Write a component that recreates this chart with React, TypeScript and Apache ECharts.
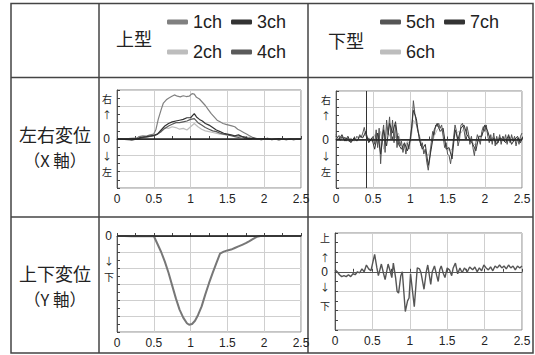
import React, { useEffect, useRef } from 'react';
import * as echarts from 'echarts';

const SANS = '"Liberation Sans", Arial, sans-serif';
const CJK = '"Noto Sans CJK JP", sans-serif';

const xTickLabels = ['0', '0.5', '1', '1.5', '2', '2.5'];
const rowLabels = ['左右変位', '（X 軸）', '上下変位', '（Y 軸）'];
const colLabels = ['上型', '下型'];
const legendRows = [['1ch', '3ch'], ['2ch', '4ch'], ['5ch', '7ch'], ['6ch']];

// y-axis side labels: [value, text]
const tlYLabels: [number, string][] = [[2.5, '右'], [1.5, '↑'], [0, '0'], [-1, '↓'], [-2, '左']];
const trYLabels: [number, string][] = [[2.5, '右'], [1.5, '↑'], [0, '0'], [-1, '↓'], [-2, '左']];
const blYLabels: [number, string][] = [[0, '0'], [-1.5, '↓'], [-2.5, '下']];
const brYLabels: [number, string][] = [[1.75, '上'], [0.75, '↑'], [0, '0'], [-0.75, '↓'], [-1.75, '下']];

// Top-left: X displacement, upper type
const ch1X: [number, number][] = [
  [0, 0], [0.05, 0.02], [0.1, -0.03], [0.15, 0], [0.2, -0.05], [0.25, -0.03], [0.3, 0.15], [0.35, 0.2], [0.4, 0.18],
  [0.45, 0.25], [0.5, 0.3], [0.53, 0.6], [0.56, 1.2], [0.6, 1.8], [0.63, 2.2], [0.67, 2.4], [0.7, 2.5], [0.74, 2.6],
  [0.78, 2.7], [0.82, 2.62], [0.86, 2.58], [0.9, 2.65], [0.94, 2.6], [0.98, 2.62], [1.02, 2.78], [1.05, 2.75],
  [1.08, 2.55], [1.12, 2.45], [1.16, 2.25], [1.2, 2.05], [1.24, 1.8], [1.28, 1.55], [1.32, 1.35], [1.36, 1.15],
  [1.4, 1.05], [1.44, 0.95], [1.48, 0.9], [1.52, 0.85], [1.56, 0.8], [1.6, 0.75], [1.64, 0.6], [1.68, 0.5],
  [1.72, 0.4], [1.76, 0.3], [1.8, 0.2], [1.84, 0.1], [1.88, 0.05], [1.92, 0], [1.96, -0.05], [2, 0], [2.05, 0.05],
  [2.1, -0.05], [2.15, 0], [2.2, -0.08], [2.25, 0], [2.3, -0.05], [2.35, 0.02], [2.4, -0.05], [2.45, 0], [2.5, -0.02],
];
const ch2X: [number, number][] = [
  [0, 0], [0.15, 0.02], [0.3, 0.05], [0.4, 0.1], [0.5, 0.2], [0.55, 0.3], [0.6, 0.5], [0.65, 0.7], [0.7, 0.65],
  [0.75, 0.75], [0.8, 0.7], [0.85, 0.6], [0.9, 0.65], [0.95, 0.55], [1, 0.75], [1.05, 0.95], [1.1, 0.75], [1.15, 0.6],
  [1.2, 0.5], [1.25, 0.45], [1.3, 0.4], [1.4, 0.3], [1.5, 0.25], [1.6, 0.2], [1.7, 0.15], [1.8, 0.1], [1.85, 0],
  [2, 0], [2.5, 0],
];
const ch3X: [number, number][] = [
  [0, 0], [0.1, -0.02], [0.2, -0.05], [0.28, 0], [0.32, 0.1], [0.4, 0.15], [0.5, 0.22], [0.55, 0.3], [0.6, 0.55],
  [0.65, 0.8], [0.7, 0.95], [0.75, 1.05], [0.8, 1.1], [0.85, 1.15], [0.9, 1.2], [0.95, 1.3], [1, 1.3], [1.05, 1.55],
  [1.08, 1.35], [1.12, 1.2], [1.16, 1.1], [1.2, 0.95], [1.25, 0.85], [1.3, 0.7], [1.35, 0.55], [1.4, 0.45],
  [1.45, 0.35], [1.5, 0.3], [1.55, 0.25], [1.6, 0.2], [1.65, 0.25], [1.7, 0.15], [1.75, 0.1], [1.8, 0], [1.85, 0.05],
  [1.9, 0], [2, 0.02], [2.1, -0.03], [2.2, 0.02], [2.3, -0.03], [2.4, 0], [2.5, 0],
];
const ch4X: [number, number][] = [
  [0, 0], [0.3, 0.05], [0.5, 0.2], [0.55, 0.3], [0.6, 0.45], [0.65, 0.65], [0.7, 0.8], [0.75, 0.9], [0.8, 1],
  [0.85, 1], [0.9, 1.05], [0.95, 1.1], [1, 1.2], [1.05, 1.25], [1.1, 1], [1.15, 0.85], [1.2, 0.7], [1.25, 0.6],
  [1.3, 0.5], [1.35, 0.45], [1.4, 0.35], [1.45, 0.3], [1.5, 0.25], [1.55, 0.2], [1.6, 0.15], [1.65, 0.1],
  [1.7, 0.15], [1.75, 0], [1.8, 0.05], [1.85, 0], [2.5, 0],
];

// Top-right: X displacement, lower type
const ch5X: [number, number][] = [
  [0, 0.3], [0.02, 0.1], [0.04, 0.25], [0.06, -0.05], [0.08, 0.2], [0.1, 0], [0.12, 0.15], [0.14, -0.1], [0.16, 0.1],
  [0.18, -0.15], [0.2, 0.05], [0.22, -0.1], [0.24, 0.1], [0.26, 0], [0.28, 0.2], [0.3, 0.1], [0.32, 0.3], [0.34, 0.15],
  [0.36, 0.4], [0.38, 0.75], [0.4, 0.3], [0.42, 0], [0.44, 0.1], [0.46, -0.1], [0.48, 0.05], [0.5, 0.2], [0.52, -0.3],
  [0.54, 0.6], [0.56, -0.5], [0.58, 0.7], [0.6, -1.5], [0.62, 0.2], [0.64, 0.9], [0.66, -0.8], [0.68, 1.2], [0.7, 0.3],
  [0.72, 1.4], [0.74, 0], [0.76, 1.2], [0.78, -0.2], [0.8, 0.9], [0.82, -0.5], [0.84, 0.2], [0.86, -0.4], [0.88, -0.1],
  [0.9, -0.8], [0.92, -0.3], [0.94, -0.9], [0.96, -0.2], [0.98, -0.6], [1, 0.2], [1.02, 0.8], [1.04, 2.4], [1.06, 1.6],
  [1.08, 1], [1.1, 0.5], [1.12, 0.2], [1.14, -0.4], [1.16, -0.2], [1.18, -0.9], [1.2, -0.6], [1.22, -1.4], [1.24, -1.9],
  [1.26, -1.2], [1.28, -0.2], [1.3, 0.5], [1.32, 0.3], [1.34, 0.9], [1.36, 0.8], [1.38, 1], [1.4, 0.7], [1.42, 0.9],
  [1.44, 0.2], [1.46, -0.5], [1.48, -0.2], [1.5, -0.9], [1.52, -1], [1.54, -1.5], [1.56, -0.8], [1.58, 0.1], [1.6, 0.9],
  [1.62, 0.5], [1.64, -0.4], [1.66, 0], [1.68, 0.9], [1.7, 1], [1.72, 0.6], [1.74, 0], [1.76, 0.8], [1.78, 0.4],
  [1.8, -0.3], [1.82, 0.2], [1.84, -0.5], [1.86, -1], [1.88, -0.2], [1.9, 0.3], [1.92, 0], [1.94, -0.3], [1.96, 0.5],
  [1.98, 0.8], [2, 0.5], [2.02, 0.9], [2.04, 0.2], [2.06, -0.2], [2.08, 0.3], [2.1, -0.3], [2.12, 0.4], [2.14, -0.4],
  [2.16, 0.2], [2.18, -0.2], [2.2, 0.3], [2.22, -0.3], [2.24, 0.2], [2.26, -0.1], [2.28, 0.3], [2.3, -0.3], [2.32, 0.2],
  [2.34, -0.2], [2.36, 0.3], [2.38, -0.1], [2.4, 0.2], [2.42, -0.4], [2.44, 0.1], [2.46, -0.3], [2.48, 0.2], [2.5, 0.4],
];
const ch6X: [number, number][] = [
  [0, 0.1], [0.04, 0.2], [0.08, 0], [0.12, 0.1], [0.16, -0.1], [0.2, 0.1], [0.24, -0.1], [0.28, 0], [0.32, 0.1],
  [0.36, 0.2], [0.4, 0.3], [0.44, 0], [0.48, -0.1], [0.52, 0.3], [0.56, -0.3], [0.6, 0.5], [0.64, -0.6], [0.68, 0.8],
  [0.72, 0.2], [0.76, 0.9], [0.8, 0.1], [0.84, 0.4], [0.88, -0.4], [0.92, -0.5], [0.96, -0.1], [1, -0.3], [1.04, 1.2],
  [1.08, 0.9], [1.12, 0.3], [1.16, -0.4], [1.2, -0.8], [1.24, -1], [1.28, -0.4], [1.32, 0.2], [1.36, 0.6], [1.4, 0.8],
  [1.44, 0.3], [1.48, -0.3], [1.52, -0.7], [1.56, -0.6], [1.6, 0.3], [1.64, 0.5], [1.68, 0.4], [1.72, 0.7], [1.76, 0.5],
  [1.8, 0.1], [1.84, -0.2], [1.88, -0.4], [1.92, 0], [1.96, 0.3], [2, 0.6], [2.04, 0.4], [2.08, 0], [2.12, 0.2],
  [2.16, -0.1], [2.2, 0.2], [2.24, -0.1], [2.28, 0.1], [2.32, -0.1], [2.36, 0.2], [2.4, -0.1], [2.44, 0.1], [2.48, 0],
  [2.5, 0.2],
];
const ch7X: [number, number][] = [
  [0, 0.2], [0.04, 0], [0.08, 0.3], [0.12, -0.1], [0.16, 0.2], [0.2, -0.2], [0.24, 0.1], [0.28, -0.1], [0.32, 0.2],
  [0.36, 0.1], [0.4, 0.5], [0.44, -0.2], [0.48, 0.1], [0.52, -0.6], [0.56, 0.4], [0.6, -0.9], [0.64, 0.6], [0.68, -0.4],
  [0.72, 1], [0.76, 0.4], [0.8, 1.1], [0.84, -0.3], [0.88, -0.6], [0.92, -0.2], [0.96, -0.7], [1, 0], [1.04, 1.8],
  [1.08, 1.3], [1.12, 0], [1.16, -0.6], [1.2, -0.3], [1.24, -1.6], [1.28, -0.6], [1.32, 0.6], [1.36, 1], [1.4, 0.5],
  [1.44, 0.7], [1.48, -0.6], [1.52, -0.5], [1.56, -1.2], [1.6, 0.6], [1.64, 0], [1.68, 0.7], [1.72, 0.9], [1.76, 0.3],
  [1.8, 0], [1.84, -0.3], [1.88, -0.7], [1.92, 0.2], [1.96, 0.2], [2, 0.9], [2.04, 0.5], [2.08, -0.1], [2.12, 0.1],
  [2.16, -0.3], [2.2, 0.1], [2.24, 0], [2.28, -0.2], [2.32, 0.3], [2.36, -0.3], [2.4, 0], [2.44, 0.2], [2.48, -0.2],
  [2.5, 0.1],
];

// Bottom-left: Y displacement, upper type
const ch1Y: [number, number][] = [
  [0, 0], [0.1, 0], [0.2, -0.02], [0.3, 0], [0.4, -0.02], [0.5, 0], [0.55, -0.5], [0.6, -1], [0.65, -1.6], [0.7, -2.3],
  [0.75, -3.1], [0.8, -3.9], [0.85, -4.6], [0.9, -5.1], [0.95, -5.45], [0.98, -5.55], [1.02, -5.5], [1.06, -5.3],
  [1.1, -4.95], [1.15, -4.4], [1.2, -3.65], [1.25, -2.95], [1.3, -2.3], [1.35, -1.7], [1.4, -1.1], [1.45, -0.98],
  [1.5, -0.9], [1.55, -0.85], [1.6, -0.75], [1.65, -0.65], [1.7, -0.55], [1.75, -0.45], [1.8, -0.32], [1.85, -0.18],
  [1.9, -0.05], [1.95, 0], [2, 0], [2.5, 0],
];

// Bottom-right: Y displacement, lower type
const ch5Y: [number, number][] = [
  [0, 0.1], [0.03, 0], [0.06, -0.15], [0.09, -0.25], [0.12, -0.2], [0.15, -0.25], [0.18, -0.15], [0.21, -0.25],
  [0.24, -0.1], [0.27, -0.15], [0.3, 0], [0.33, -0.05], [0.36, 0.15], [0.39, 0], [0.42, 0.35], [0.45, 0.15],
  [0.48, 0.05], [0.53, 0.9], [0.56, 0.2], [0.58, -0.2], [0.62, 0.4], [0.65, -0.1], [0.67, -0.4], [0.71, 0.4],
  [0.74, 0], [0.76, -0.3], [0.78, 0.45], [0.81, -0.3], [0.83, -1], [0.85, -1.1], [0.88, -0.2], [0.9, 0],
  [0.94, -2.05], [0.97, -1.5], [0.99, -1.35], [1.01, -0.1], [1.06, -1.8], [1.08, -0.8], [1.1, 0.2], [1.13, 0.15],
  [1.15, -0.05], [1.19, -0.9], [1.22, 0], [1.24, 0.35], [1.28, -0.65], [1.3, 0], [1.33, 0.3], [1.36, -0.2],
  [1.38, -0.5], [1.4, 0.1], [1.42, 0.3], [1.45, -0.1], [1.47, -0.3], [1.5, 0.2], [1.53, 0.1], [1.56, -0.2],
  [1.58, 0.2], [1.61, 0.45], [1.64, -0.1], [1.67, 0.2], [1.7, -0.05], [1.73, 0.2], [1.77, 0], [1.8, 0.25],
  [1.84, 0.1], [1.87, 0.25], [1.9, 0], [1.93, 0.2], [1.96, 0.05], [1.99, 0.35], [2.02, 0.2], [2.05, 0.1],
  [2.08, 0.25], [2.11, 0.05], [2.14, 0.3], [2.17, 0.2], [2.2, 0.35], [2.23, 0.2], [2.26, 0.3], [2.29, 0.15],
  [2.32, 0.35], [2.35, 0.2], [2.38, 0.3], [2.41, 0.1], [2.44, 0.3], [2.47, 0.2], [2.5, 0.3],
];

const colors: Record<string, string> = {
  '1ch': '#808080', '2ch': '#bdbdbd', '3ch': '#333333', '4ch': '#5a5a5a',
  '5ch': '#555555', '6ch': '#bdbdbd', '7ch': '#333333',
};

function labelFormatter(list: [number, string][]) {
  const m = new Map<number, string>();
  list.forEach(([v, t]) => m.set(Math.round(v * 100), t));
  return (v: number) => {
    const t = m.get(Math.round(v * 100));
    if (t === undefined) return '';
    return t === '0' ? '{n|0}' : '{c|' + t + '}';
  };
}

export default function App() {
  const ref = useRef<HTMLDivElement>(null);
  useEffect(() => {
    if (!ref.current) return;
    const chart = echarts.init(ref.current, undefined, { renderer: 'svg' });

    const grids = [
      { left: 117, top: 90, width: 184, height: 98 },
      { left: 336, top: 91, width: 186, height: 97 },
      { left: 117, top: 236, width: 184, height: 96 },
      { left: 335, top: 233, width: 187, height: 97 },
    ].map((g) => ({ ...g, show: true, borderColor: '#888', borderWidth: 1 }));

    const ranges: [number, number][] = [[-3, 3], [-3, 3], [-6, 0], [-3, 2]];
    const sideLabels = [tlYLabels, trYLabels, blYLabels, brYLabels];
    const labelMargins = [5, 5, 3, 5];

    const xAxis = grids.map((_, i) => ({
      type: 'value', gridIndex: i, min: 0, max: 2.5, interval: 0.5,
      axisLine: { show: true, lineStyle: { color: '#555', width: 1 } },
      axisTick: { show: true, inside: true, length: 3, lineStyle: { color: '#444' } },
      minorTick: { show: true, splitNumber: 2, length: 3, lineStyle: { color: '#444' } },
      splitLine: { show: true, lineStyle: { color: '#cfcfcf', width: 1 } },
      axisLabel: {
        margin: 5, fontSize: 12, color: '#222', fontFamily: SANS,
        formatter: (v: number) => xTickLabels[Math.round(v / 0.5)] ?? '',
      },
    }));

    const yAxis: any[] = [];
    grids.forEach((_, i) => {
      yAxis.push({
        type: 'value', gridIndex: i, position: 'left', min: ranges[i][0], max: ranges[i][1], interval: 1,
        axisLine: { show: true, lineStyle: { color: '#555', width: 1 } },
        axisTick: { show: true, inside: true, length: 3, lineStyle: { color: '#444' } },
        minorTick: { show: true, splitNumber: 2, length: 3, lineStyle: { color: '#444' } },
        splitLine: { show: true, lineStyle: { color: '#cfcfcf', width: 1 } },
        axisLabel: { show: false },
      });
      yAxis.push({
        type: 'value', gridIndex: i, position: 'left', min: ranges[i][0], max: ranges[i][1], interval: 0.25,
        axisLine: { show: false }, axisTick: { show: false }, splitLine: { show: false },
        axisLabel: {
          margin: labelMargins[i],
          formatter: labelFormatter(sideLabels[i]),
          rich: {
            n: { fontSize: 12, lineHeight: 12, fontFamily: SANS, color: '#222', padding: [0, 2, 0, 0] },
            c: { fontSize: 10, lineHeight: 10, fontFamily: CJK, color: '#222' },
          },
        },
      });
    });

    const zeroLine = () => ({
      silent: true, symbol: ['none', 'none'], label: { show: false },
      lineStyle: { color: '#222', width: 1.5, type: 'solid' },
      data: [{ yAxis: 0 }],
    });

    const mk = (name: string, data: [number, number][], gi: number, width = 1.2, extra: any = {}) => ({
      type: 'line', name, data, xAxisIndex: gi, yAxisIndex: gi * 2,
      showSymbol: false, symbol: 'none', smooth: false,
      color: colors[name],
      itemStyle: { color: colors[name] },
      lineStyle: { color: colors[name], width },
      ...extra,
    });

    const series = [
      mk('2ch', ch2X, 0),
      mk('1ch', ch1X, 0),
      mk('4ch', ch4X, 0),
      mk('3ch', ch3X, 0, 1.2, { markLine: zeroLine() }),
      mk('6ch', ch6X, 1, 1),
      mk('5ch', ch5X, 1, 1),
      mk('7ch', ch7X, 1, 1, {
        markLine: {
          silent: true, symbol: ['none', 'none'], label: { show: false },
          lineStyle: { color: '#222', width: 1.5, type: 'solid' },
          data: [{ yAxis: 0 }, { xAxis: 0.4, lineStyle: { color: '#333', width: 1 } }],
        },
      }),
      mk('1ch', ch1Y, 2, 2, { lineStyle: { color: '#777', width: 2 }, markLine: zeroLine() }),
      mk('5ch', ch5Y, 3, 1.4, { lineStyle: { color: '#555', width: 1.4 } }),
    ];

    const legendPos = [
      { left: 167, top: 13 },
      { left: 167, top: 43 },
      { left: 380, top: 13 },
      { left: 380, top: 43 },
    ];
    const legend = legendRows.map((row, i) => ({
      data: row, ...legendPos[i], orient: 'horizontal', padding: 0,
      itemGap: 9, itemWidth: 21, itemHeight: 5, icon: 'roundRect',
      selectedMode: false,
      textStyle: { fontSize: 18, color: '#222', fontFamily: SANS },
    }));

    const lineStyle = { stroke: '#444', lineWidth: 1.5 };
    const hLine = (y: number) => ({ type: 'line', shape: { x1: 11, y1: y, x2: 533, y2: y }, style: lineStyle });
    const vLine = (x: number) => ({ type: 'line', shape: { x1: x, y1: 3.5, x2: x, y2: 353 }, style: lineStyle });
    const txt = (x: number, y: number, text: string, size = 18) => ({
      type: 'text', x, y,
      style: {
        text, fontSize: size, lineHeight: size + 1, fontFamily: CJK, fill: '#222',
        textAlign: 'center', textVerticalAlign: 'middle',
      },
    });

    const graphic = [
      { type: 'rect', shape: { x: 11, y: 3.5, width: 522, height: 349.5 }, style: { fill: 'none', stroke: '#444', lineWidth: 1.5 } },
      hLine(77.5), hLine(217), vLine(99), vLine(308),
      txt(55, 134, rowLabels[0]), txt(55, 160, rowLabels[1], 16.5),
      txt(55, 273, rowLabels[2]), txt(55, 299, rowLabels[3], 16.5),
      txt(134, 38, colLabels[0]), txt(346, 40, colLabels[1]),
    ];

    chart.setOption({
      animation: false,
      backgroundColor: '#fff',
      grid: grids,
      xAxis, yAxis, series, legend, graphic,
    } as any);
    return () => chart.dispose();
  }, []);
  return <div ref={ref} style={{ position: 'fixed', left: 0, top: 0, width: 535, height: 355 }} />;
}
